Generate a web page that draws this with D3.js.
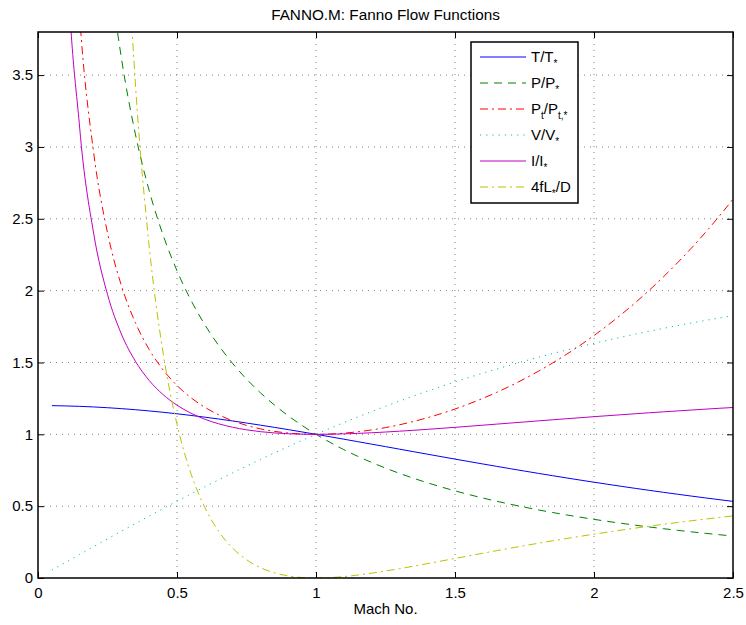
<!DOCTYPE html>
<html>
<head>
<meta charset="utf-8">
<script src="https://cdn.jsdelivr.net/npm/d3@7"></script>
<style>
  body { margin: 0; background: #fff; }
  svg { display: block; font-family: "Liberation Sans", Arial, Helvetica, sans-serif; }
</style>
</head>
<body>
<svg id="chart" width="746" height="625"></svg>
<script>
// ---- data ----
const machNo = [0.05,0.10,0.15,0.20,0.25,0.30,0.35,0.40,0.45,0.50,0.55,0.60,0.65,0.70,0.75,0.80,0.85,0.90,0.95,1.00,
  1.05,1.10,1.15,1.20,1.25,1.30,1.35,1.40,1.45,1.50,1.55,1.60,1.65,1.70,1.75,1.80,1.85,1.90,1.95,2.00,
  2.05,2.10,2.15,2.20,2.25,2.30,2.35,2.40,2.45,2.50];
const tRatio = [1.1994,1.1976,1.1946,1.1905,1.1852,1.1788,1.1713,1.1628,1.1533,1.1429,1.1315,1.1194,1.1065,1.0929,1.0787,1.0638,1.0485,1.0327,1.0165,1.0000,
  0.9832,0.9662,0.9490,0.9317,0.9143,0.8969,0.8794,0.8621,0.8448,0.8276,0.8105,0.7937,0.7770,0.7605,0.7442,0.7282,0.7124,0.6969,0.6816,0.6667,
  0.6520,0.6376,0.6235,0.6098,0.5963,0.5831,0.5702,0.5576,0.5453,0.5333];
const pRatio = [21.903,10.944,7.2866,5.4554,4.3546,3.6191,3.0922,2.6958,2.3865,2.1381,1.9341,1.7634,1.6183,1.4935,1.3848,1.2893,1.2047,1.1291,1.0613,1.0000,
  0.9444,0.8936,0.8471,0.8044,0.7649,0.7285,0.6947,0.6632,0.6339,0.6065,0.5808,0.5568,0.5342,0.5130,0.4930,0.4741,0.4562,0.4394,0.4234,0.4082,
  0.3939,0.3802,0.3673,0.3549,0.3432,0.3320,0.3213,0.3111,0.3014,0.2921];
const ptRatio = [11.591,5.8218,3.9103,2.9635,2.4027,2.0351,1.7780,1.5901,1.4487,1.3398,1.2549,1.1882,1.1356,1.0944,1.0624,1.0382,1.0207,1.0089,1.0021,1.0000,
  1.0020,1.0079,1.0175,1.0304,1.0468,1.0663,1.0890,1.1149,1.1440,1.1762,1.2116,1.2502,1.2922,1.3376,1.3865,1.4390,1.4952,1.5553,1.6193,1.6875,
  1.7600,1.8369,1.9185,2.0050,2.0964,2.1931,2.2953,2.4031,2.5168,2.6367];
const vRatio = [0.0548,0.1094,0.1640,0.2182,0.2722,0.3257,0.3788,0.4313,0.4833,0.5345,0.5851,0.6348,0.6837,0.7318,0.7789,0.8251,0.8704,0.9146,0.9578,1.0000,
  1.0412,1.0812,1.1203,1.1583,1.1952,1.2311,1.2660,1.2999,1.3327,1.3646,1.3955,1.4254,1.4544,1.4825,1.5097,1.5360,1.5615,1.5861,1.6099,1.6330,
  1.6553,1.6769,1.6978,1.7179,1.7374,1.7563,1.7745,1.7922,1.8093,1.8257];
const iRatio = [9.158,4.6236,3.1317,2.4004,1.9732,1.6979,1.5094,1.3749,1.2763,1.2027,1.1472,1.1050,1.0732,1.0492,1.0314,1.0185,1.0097,1.0040,1.0009,1.0000,
  1.0008,1.0031,1.0065,1.0108,1.0159,1.0217,1.0279,1.0346,1.0415,1.0487,1.0560,1.0635,1.0710,1.0785,1.0860,1.0935,1.1009,1.1083,1.1155,1.1227,
  1.1297,1.1366,1.1434,1.1500,1.1565,1.1628,1.1690,1.1751,1.1810,1.1867];
const fanno4fLD = [279.95,66.92,27.93,14.533,8.4834,5.2993,3.4525,2.3085,1.5664,1.0691,0.7281,0.4908,0.3246,0.2081,0.1273,0.0723,0.0363,0.0145,0.0033,0.0000,
  0.0027,0.0099,0.0205,0.0336,0.0486,0.0648,0.0820,0.0997,0.1178,0.1361,0.1543,0.1724,0.1902,0.2078,0.2250,0.2419,0.2583,0.2743,0.2899,0.3050,
  0.3197,0.3339,0.3476,0.3609,0.3738,0.3862,0.3983,0.4099,0.4211,0.4320];
const xTicks = [0, 0.5, 1, 1.5, 2, 2.5];
const yTicks = [0, 0.5, 1, 1.5, 2, 2.5, 3, 3.5];
const xDomain = [0, 2.5];
const yDomain = [0, 3.8];
const titleText = "FANNO.M: Fanno Flow Functions";
const xLabelText = "Mach No.";

// series: values, colour, dash pattern, legend label parts [text, isSubscript]
const seriesList = [
  { values: tRatio,    color: "#0000ff", dash: null,      label: [["T/T",0],["*",1]] },
  { values: pRatio,    color: "#008000", dash: "8,6",     label: [["P/P",0],["*",1]] },
  { values: ptRatio,   color: "#ff0000", dash: "8,4,2,4", label: [["P",0],["t",1],["/P",0],["t,*",1]] },
  { values: vRatio,    color: "#00bfbf", dash: "1.2,5",   label: [["V/V",0],["*",1]] },
  { values: iRatio,    color: "#bf00bf", dash: null,      label: [["I/I",0],["*",1]] },
  { values: fanno4fLD, color: "#bfbf00", dash: "8,4,2,4", label: [["4fL",0],["*",1],["/D",0]] }
];

// ---- layout ----
const svg = d3.select("#chart");
const pLeft = 38, pRight = 733, pTop = 32, pBottom = 578;
const x = d3.scaleLinear().domain(xDomain).range([pLeft, pRight]);
const y = d3.scaleLinear().domain(yDomain).range([pBottom, pTop]);

svg.append("defs").append("clipPath").attr("id", "plotClip")
  .append("rect").attr("x", pLeft).attr("y", pTop).attr("width", pRight - pLeft).attr("height", pBottom - pTop);

// grid
const grid = svg.append("g");
xTicks.forEach(t => {
  if (t === xDomain[0] || t === xDomain[1]) return;
  grid.append("line").attr("x1", x(t)).attr("x2", x(t)).attr("y1", pTop).attr("y2", pBottom)
    .attr("stroke", "#808080").attr("stroke-width", 1).attr("stroke-dasharray", "1,5");
});
yTicks.forEach(t => {
  if (t === yDomain[0]) return;
  grid.append("line").attr("x1", pLeft).attr("x2", pRight).attr("y1", y(t)).attr("y2", y(t))
    .attr("stroke", "#808080").attr("stroke-width", 1).attr("stroke-dasharray", "1,5");
});

// lines
const plot = svg.append("g").attr("clip-path", "url(#plotClip)");
seriesList.forEach(s => {
  const line = d3.line().x((d, i) => x(machNo[i])).y(d => y(d)).curve(d3.curveMonotoneX);
  plot.append("path").datum(s.values).attr("d", line)
    .attr("fill", "none").attr("stroke", s.color).attr("stroke-width", 1)
    .attr("stroke-dasharray", s.dash);
});

// axes (MATLAB style: inward ticks on all sides, box)
const fontSize = 15;
const xAxisB = d3.axisBottom(x).tickValues(xTicks).tickSizeInner(-6).tickSizeOuter(0).tickPadding(9)
  .tickFormat(d3.format("~g"));
const xAxisT = d3.axisTop(x).tickValues(xTicks).tickSizeInner(-6).tickSizeOuter(0).tickFormat("");
const yAxisL = d3.axisLeft(y).tickValues(yTicks).tickSizeInner(-6).tickSizeOuter(0).tickPadding(5)
  .tickFormat(d3.format("~g"));
const yAxisR = d3.axisRight(y).tickValues(yTicks).tickSizeInner(-6).tickSizeOuter(0).tickFormat("");

function styleAxis(g) {
  g.select(".domain").remove();
  g.selectAll(".tick line").attr("stroke", "#000").attr("stroke-width", 1);
  g.selectAll(".tick text").attr("fill", "#000").attr("font-size", fontSize)
    .attr("font-family", "'Liberation Sans', Arial, sans-serif");
}
svg.append("g").attr("transform", `translate(0,${pBottom})`).call(xAxisB).call(styleAxis);
svg.append("g").attr("transform", `translate(0,${pTop})`).call(xAxisT).call(styleAxis);
svg.append("g").attr("transform", `translate(${pLeft},0)`).call(yAxisL).call(styleAxis);
svg.append("g").attr("transform", `translate(${pRight},0)`).call(yAxisR).call(styleAxis);

svg.append("rect").attr("x", pLeft).attr("y", pTop).attr("width", pRight - pLeft).attr("height", pBottom - pTop)
  .attr("fill", "none").attr("stroke", "#000").attr("stroke-width", 1.5);

// title & label
svg.append("text").attr("x", (pLeft + pRight) / 2).attr("y", 20).attr("text-anchor", "middle")
  .attr("font-size", 15.3).attr("fill", "#000").text(titleText);
svg.append("text").attr("x", (pLeft + pRight) / 2).attr("y", 614).attr("text-anchor", "middle")
  .attr("font-size", fontSize).attr("fill", "#000").text(xLabelText);

// legend
const lg = svg.append("g");
const lx = 471, ly = 42, lw = 107, lh = 161;
lg.append("rect").attr("x", lx).attr("y", ly).attr("width", lw).attr("height", lh)
  .attr("fill", "#fff").attr("stroke", "#000").attr("stroke-width", 1.5);
seriesList.forEach((s, i) => {
  const yy = 57 + i * 26;
  lg.append("line").attr("x1", 480).attr("x2", 526).attr("y1", yy).attr("y2", yy)
    .attr("stroke", s.color).attr("stroke-width", 1).attr("stroke-dasharray", s.dash);
  const t = lg.append("text").attr("x", 531).attr("y", yy + 5).attr("font-size", fontSize).attr("fill", "#000");
  s.label.forEach(([txt, sub]) => {
    const ts = t.append("tspan").text(txt).attr("y", sub ? yy + 10 : yy + 5);
    if (sub) ts.attr("font-size", 10);
  });
});
</script>
</body>
</html>
